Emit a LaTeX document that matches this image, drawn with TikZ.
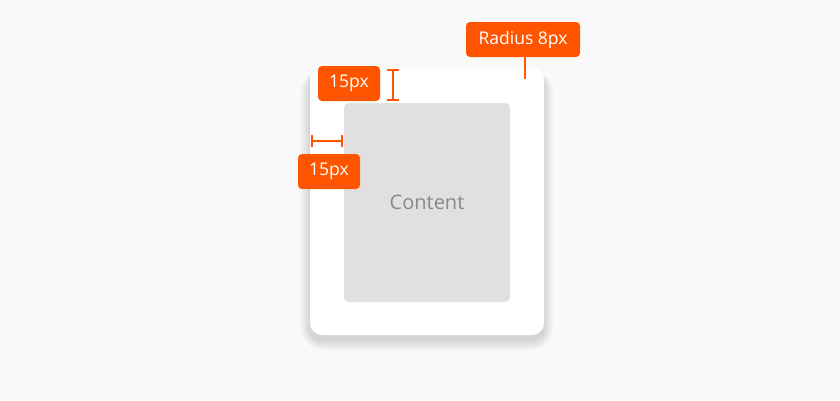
\documentclass[tikz,border=0pt]{standalone}
\usepackage{fontspec}
\setmainfont{Open Sans}
\usetikzlibrary{arrows.meta,positioning,calc}
\definecolor{PageGray}{RGB}{249,249,249}
\definecolor{TagOrange}{RGB}{255,85,0}
\definecolor{ContentGray}{RGB}{224,224,224}
\definecolor{LabelGray}{RGB}{136,136,136}
\tikzset{
  card/.style={fill=white,rounded corners=12pt,minimum width=234pt,minimum height=267pt,inner sep=0pt},
  contentbox/.style={fill=ContentGray,rounded corners=5pt,minimum width=166pt,minimum height=199pt,inner sep=0pt,text=LabelGray,font=\fontsize{20}{24}\selectfont},
  tag/.style={fill=TagOrange,rounded corners=4pt,minimum height=35pt,inner sep=0pt,text=white,font=\fontsize{17.5}{21}\selectfont},
  measure/.style={draw=TagOrange,line width=2pt,{Bar[width=12pt,line width=2pt]}-{Bar[width=12pt,line width=2pt]}},
  leader/.style={draw=TagOrange,line width=2pt}
}

\begin{document}
\begin{tikzpicture}[x=1pt,y=-1pt]
\fill[PageGray] (0,0) rectangle (840,400);
\useasboundingbox (0,0) rectangle (840,400);

% soft shadow under the card
\foreach \i in {1,...,12}
  \fill[black,opacity=0.011,rounded corners={12pt+\i pt}]
    (310-\i*0.8,74-\i*0.4) rectangle (544+\i*0.8,340+\i*0.9);

\node[card] (card) at (427,201.5) {};
\node[contentbox] (content) at (427,202.5) {Content};

% tags
\node[tag,minimum width=114pt] (radius) at (523,39.5) {Radius 8px};
\node[tag,minimum width=62pt] (padtop) at (349,83.5) {15px};
\node[tag,minimum width=62pt] (padleft) at (329,171.5) {15px};

% measurement marks
\coordinate (corner) at (525,79);
\coordinate (t1) at (393,69);
\coordinate (t2) at (393,101);
\coordinate (l1) at (311,141);
\coordinate (l2) at (343,141);
\draw[leader] (radius.south -| corner) -- (corner);
\draw[measure] (t1) -- (t2);
\draw[measure] (l1) -- (l2);
\end{tikzpicture}
\end{document}
